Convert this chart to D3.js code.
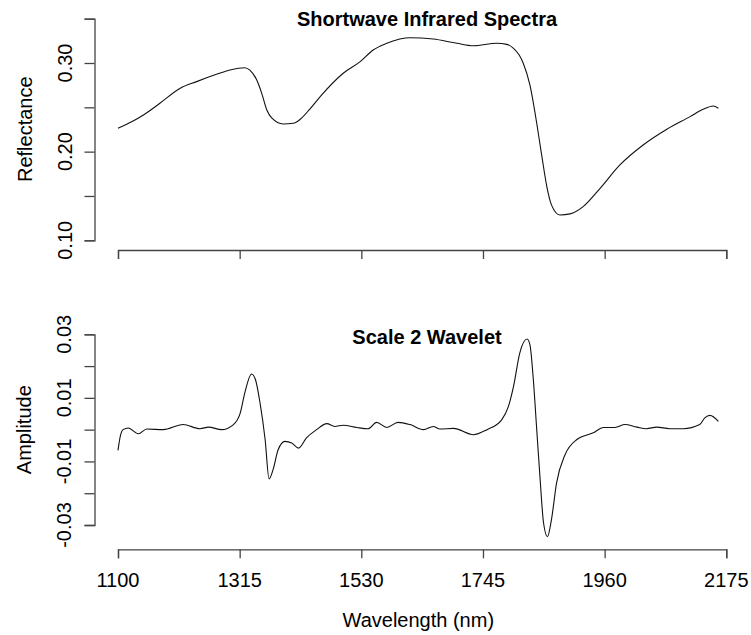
<!DOCTYPE html>
<html>
<head>
<meta charset="utf-8">
<script src="https://cdn.jsdelivr.net/npm/d3@7/dist/d3.min.js"></script>
<style>
  html, body { margin: 0; padding: 0; background: #ffffff; }
  svg { display: block; }
  text { font-family: "Liberation Sans", Arial, sans-serif; fill: #000; }
</style>
</head>
<body>
<svg id="chart" width="751" height="635"></svg>
<script>
// ---- Data ----
const wavelengthTicks = [1100, 1315, 1530, 1745, 1960, 2175];
const reflTicks = [0.10, 0.15, 0.20, 0.25, 0.30, 0.35];
const reflTickLabels = ["0.10", "", "0.20", "", "0.30", ""];
const ampTicks = [-0.03, -0.02, -0.01, 0.00, 0.01, 0.02, 0.03];
const ampTickLabels = ["-0.03", "", "-0.01", "", "0.01", "", "0.03"];

const reflWavelength = [1100, 1125, 1145, 1174, 1210, 1239, 1274, 1298, 1324, 1333, 1345, 1354, 1363, 1372, 1392, 1410, 1422, 1439, 1460, 1498, 1528, 1551, 1575, 1598, 1616, 1657, 1699, 1728, 1769, 1787, 1799, 1809, 1816, 1828, 1840, 1849, 1858, 1866, 1881, 1899, 1922, 1952, 1987, 2028, 2070, 2111, 2134, 2152, 2161];
const reflectance = [0.2264, 0.2340, 0.2414, 0.2546, 0.2715, 0.2790, 0.2872, 0.2921, 0.2947, 0.2920, 0.2810, 0.2658, 0.2470, 0.2377, 0.2312, 0.2320, 0.2365, 0.2480, 0.2640, 0.2884, 0.3015, 0.3147, 0.3222, 0.3270, 0.3285, 0.3270, 0.3222, 0.3195, 0.3222, 0.3210, 0.3166, 0.3090, 0.3000, 0.2750, 0.2320, 0.1950, 0.1600, 0.1400, 0.1286, 0.1298, 0.1380, 0.1587, 0.1850, 0.2075, 0.2253, 0.2395, 0.2478, 0.2515, 0.2490];

const ampWavelength = [1100, 1104, 1109, 1118, 1136, 1151, 1180, 1215, 1245, 1260, 1283, 1304, 1316, 1324, 1336, 1343, 1351, 1360, 1367, 1374, 1383, 1395, 1407, 1419, 1433, 1451, 1469, 1483, 1498, 1522, 1542, 1557, 1575, 1595, 1616, 1640, 1657, 1669, 1693, 1728, 1752, 1778, 1790, 1799, 1810, 1823, 1828, 1834, 1840, 1846, 1852, 1859, 1866, 1875, 1890, 1911, 1940, 1958, 1978, 1996, 2017, 2034, 2052, 2075, 2099, 2128, 2137, 2146, 2161];
const amplitude = [-0.0065, -0.0021, 0.0000, 0.0005, -0.0013, 0.0002, 0.0000, 0.0016, 0.0003, 0.0008, 0.0000, 0.0016, 0.0052, 0.0115, 0.0175, 0.0157, 0.0084, -0.0031, -0.0155, -0.0126, -0.0063, -0.0037, -0.0042, -0.0058, -0.0026, 0.0000, 0.0019, 0.0010, 0.0014, 0.0007, 0.0003, 0.0023, 0.0007, 0.0023, 0.0016, 0.0000, 0.0010, 0.0002, 0.0004, -0.0016, 0.0000, 0.0031, 0.0073, 0.0136, 0.0241, 0.0285, 0.0267, 0.0157, 0.0000, -0.0157, -0.0293, -0.0337, -0.0283, -0.0168, -0.0079, -0.0031, -0.0010, 0.0007, 0.0007, 0.0016, 0.0008, 0.0003, 0.0008, 0.0003, 0.0003, 0.0016, 0.0037, 0.0045, 0.0026];

// ---- Layout ----
const svg = d3.select("#chart");
const FS = 20;
const axisColor = "#444";

const x = d3.scaleLinear().domain([1100, 2175]).range([118, 726.3]);
const yTop = d3.scaleLinear().domain([0.10, 0.30]).range([240.3, 63]);
const yBot = d3.scaleLinear().domain([-0.03, 0.03]).range([525, 334.3]);

// axis scales spanning the full tick range (R draws the axis line between first and last tick)
const yTopAxis = yTop.copy().domain(d3.extent(reflTicks)).range(d3.extent(reflTicks).map(yTop));
const yBotAxis = yBot.copy().domain(d3.extent(ampTicks)).range(d3.extent(ampTicks).map(yBot));

function styleAxis(g) {
  g.select(".domain").attr("stroke", axisColor).attr("stroke-width", 1.3);
  g.selectAll(".tick line").attr("stroke", axisColor).attr("stroke-width", 1.3);
  g.selectAll(".tick text").remove();
}

// Top panel axes
svg.append("g").attr("transform", "translate(94.5,0)")
  .call(d3.axisLeft(yTopAxis).tickValues(reflTicks).tickSizeOuter(0).tickSize(10))
  .call(styleAxis);
svg.append("g").attr("transform", "translate(0,250)")
  .call(d3.axisBottom(x).tickValues(wavelengthTicks).tickSizeOuter(0).tickSize(9))
  .call(styleAxis);

// Bottom panel axes
svg.append("g").attr("transform", "translate(94.5,0)")
  .call(d3.axisLeft(yBotAxis).tickValues(ampTicks).tickSizeOuter(0).tickSize(10))
  .call(styleAxis);
svg.append("g").attr("transform", "translate(0,549.3)")
  .call(d3.axisBottom(x).tickValues(wavelengthTicks).tickSizeOuter(0).tickSize(9))
  .call(styleAxis);

// Y tick labels (rotated)
reflTicks.forEach((v, i) => {
  if (!reflTickLabels[i]) return;
  svg.append("text")
    .attr("transform", `translate(71.5,${yTop(v)}) rotate(-90)`)
    .attr("text-anchor", "middle")
    .attr("font-size", FS)
    .text(reflTickLabels[i]);
});
ampTicks.forEach((v, i) => {
  if (!ampTickLabels[i]) return;
  svg.append("text")
    .attr("transform", `translate(71,${yBot(v)}) rotate(-90)`)
    .attr("text-anchor", "middle")
    .attr("font-size", FS)
    .text(ampTickLabels[i]);
});

// X tick labels (bottom panel)
wavelengthTicks.forEach(v => {
  svg.append("text")
    .attr("x", x(v)).attr("y", 586.7)
    .attr("text-anchor", "middle")
    .attr("font-size", FS)
    .text(String(v));
});

// Axis titles
svg.append("text")
  .attr("transform", "translate(31.5,129.2) rotate(-90)")
  .attr("text-anchor", "middle").attr("font-size", FS)
  .text("Reflectance");
svg.append("text")
  .attr("transform", "translate(30.5,429.7) rotate(-90)")
  .attr("text-anchor", "middle").attr("font-size", FS)
  .text("Amplitude");
svg.append("text")
  .attr("x", 418.3).attr("y", 626.5)
  .attr("text-anchor", "middle").attr("font-size", FS)
  .text("Wavelength (nm)");

// Panel titles
svg.append("text")
  .attr("x", 427).attr("y", 26)
  .attr("text-anchor", "middle").attr("font-size", FS).attr("font-weight", "bold")
  .text("Shortwave Infrared Spectra");
svg.append("text")
  .attr("x", 427).attr("y", 343.5)
  .attr("text-anchor", "middle").attr("font-size", FS).attr("font-weight", "bold")
  .text("Scale 2 Wavelet");

// Curves
const reflData = reflWavelength.map((w, i) => [w, reflectance[i]]);
const ampData = ampWavelength.map((w, i) => [w, amplitude[i]]);

svg.append("path")
  .datum(reflData)
  .attr("fill", "none").attr("stroke", "#111").attr("stroke-width", 1.1)
  .attr("d", d3.line().x(d => x(d[0])).y(d => yTop(d[1])).curve(d3.curveMonotoneX));

svg.append("path")
  .datum(ampData)
  .attr("fill", "none").attr("stroke", "#111").attr("stroke-width", 1.1)
  .attr("d", d3.line().x(d => x(d[0])).y(d => yBot(d[1])).curve(d3.curveMonotoneX));
</script>
</body>
</html>
